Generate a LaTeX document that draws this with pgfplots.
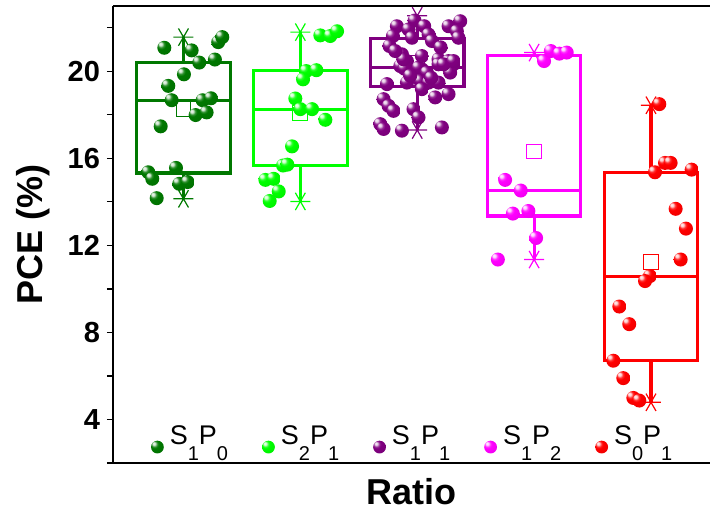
\documentclass[border=0pt]{standalone}
\usepackage{fontspec}
\setmainfont{Liberation Sans}
\usepackage{pgfplots}
\pgfplotsset{compat=1.18}

\definecolor{cA}{RGB}{0,120,0}
\definecolor{cB}{RGB}{0,255,0}
\definecolor{cC}{RGB}{128,0,128}
\definecolor{cD}{RGB}{255,0,255}
\definecolor{cE}{RGB}{255,0,0}
\colorlet{mballc}{black}

% glossy dots: own shading + own mark
\pgfdeclareradialshading[mballc]{mball}{\pgfqpoint{-15bp}{15bp}}{%
  color(0bp)=(mballc!8!white); color(5bp)=(mballc!15!white);
  color(11bp)=(mballc!80!white); color(16bp)=(mballc);
  color(40bp)=(mballc!92!black); color(60bp)=(mballc!78!black)}
\pgfdeclareplotmark{gball}{%
  \pgfpathcircle{\pgfpointorigin}{\pgfplotmarksize}%
  \pgfshadepath{mball}{0}\pgfusepath{}}

\newcommand{\lsub}[1]{\raisebox{-7.8pt}{\fontsize{10}{10}\selectfont #1}}

\pgfplotsset{
  pbox/.style={forget plot, line width=1.6pt, solid, mark=none,
    line join=miter, unbounded coords=jump},
  pend/.style={forget plot, only marks, mark=asterisk, line width=0.6pt,
    mark options={rotate=90, solid}, mark size=5pt},
  pmean/.style={forget plot, only marks, mark=square, mark size=3.7pt,
    line width=0.5pt},
  pdots/.style={only marks, mark=gball, mark size=3.5pt, #1,
    mark options={/utils/exec={\colorlet{mballc}{#1}}}},
}

\begin{document}
\begin{tikzpicture}
\begin{axis}[
  scale only axis,
  width=298.5pt, height=228.5pt,
  xmin=0.397, xmax=5.505,
  ymin=2, ymax=23,
  xtick=\empty,
  ytick={4,8,12,16,20},
  minor ytick={2,6,10,14,18,22},
  axis x line=box,
  axis y line*=left,
  x axis line style={-, line width=0.8pt},
  y axis line style={-, line width=0.8pt},
  tick align=outside,
  major tick length=3pt,
  minor tick length=3pt,
  tick style={line width=0.6pt, black},
  /pgf/number format/assume math mode=true,
  yticklabel style={font=\bfseries\fontsize{14.5}{14.5}\selectfont},
  ylabel={PCE (\%)},
  xlabel={Ratio},
  label style={font=\bfseries\fontsize{18}{18}\selectfont},
  y label style={at={(axis description cs:-0.134,0.5)}, anchor=center},
  x label style={at={(axis description cs:0.5,-0.062)}, anchor=center},
  legend columns=5,
  legend cell align=left,
  legend style={at={(0.063,0.02)}, anchor=south west, draw=none, fill=none,
    font=\fontsize{13.5}{13.5}\selectfont, inner sep=0pt,
    /tikz/every odd column/.append style={column sep=1pt},
    /tikz/every even column/.append style={column sep=15pt}},
  legend image code/.code={\draw[#1, mark size=3.2pt] plot[only marks] coordinates {(0cm,-5pt)};},
]

% ---- S1P0 ----
\addplot[pbox, cA] coordinates {
  (0.6,15.33) (1.4,15.33) (1.4,20.40) (0.6,20.40) (0.6,15.33) (1.4,15.33)
  (1,nan) (0.6,18.67) (1.4,18.67)
  (1,nan) (1,20.40) (1,21.57)
  (1,nan) (1,15.33) (1,14.14)};
\addplot[pend, cA] coordinates {(1,21.57) (1,14.14)};
\addplot[pmean, cA] coordinates {(1,18.26)};
\addplot[pdots=cA] coordinates {
  (0.836,21.08) (1.070,20.96) (1.297,21.34) (1.332,21.57) (1.135,20.40)
  (1.269,20.54) (1.004,19.86) (0.870,19.33) (0.899,18.67) (1.164,18.67)
  (1.235,18.76) (1.104,17.99) (1.198,18.11) (0.805,17.47) (0.699,15.36)
  (0.733,15.06) (0.936,15.56) (0.964,14.83) (1.036,14.91) (0.771,14.17)
};
\addlegendentry{S\lsub{1}P\lsub{0}}

% ---- S2P1 ----
\addplot[pbox, cB] coordinates {
  (1.6,15.67) (2.4,15.67) (2.4,20.05) (1.6,20.05) (1.6,15.67) (2.4,15.67)
  (2,nan) (1.6,18.26) (2.4,18.26)
  (2,nan) (2,20.05) (2,21.80)
  (2,nan) (2,15.67) (2,14.02)};
\addplot[pend, cB] coordinates {(2,21.80) (2,14.02)};
\addplot[pmean, cB] coordinates {(2,18.08)};
\addplot[pdots=cB] coordinates {
  (2.171,21.65) (2.256,21.62) (2.314,21.84) (2.051,20.01) (2.137,20.05)
  (2.023,19.63) (1.957,18.75) (2.000,18.26) (2.100,18.26) (2.214,17.77)
  (1.929,16.55) (1.852,15.67) (1.889,15.71) (1.701,15.01) (1.772,15.06)
  (1.815,14.48) (1.738,14.04)
};
\addlegendentry{S\lsub{2}P\lsub{1}}

% ---- S1P1 ----
\addplot[pbox, cC] coordinates {
  (2.6,19.30) (3.4,19.30) (3.4,21.50) (2.6,21.50) (2.6,19.30) (3.4,19.30)
  (3,nan) (2.6,20.17) (3.4,20.17)
  (3,nan) (3,21.50) (3,22.55)
  (3,nan) (3,19.30) (3,17.30)};
\addplot[pend, cC] coordinates {(3,22.55) (3,17.30)};
\addplot[pmean, cC] coordinates {(3,20.40)};
\addplot[pdots=cC] coordinates {
  (2.977,22.33) (2.826,22.07) (2.926,21.92) (3.060,22.07) (3.097,21.69)
  (3.268,22.07) (3.368,22.30) (2.792,21.62) (2.955,21.54) (3.126,21.39)
  (3.339,21.84) (3.353,21.54) (2.763,21.16) (2.869,20.78) (2.912,20.47)
  (3.182,20.55) (3.268,20.47) (2.855,20.24) (3.040,20.09) (3.182,20.32)
  (3.310,20.32) (2.891,20.12) (3.011,20.17) (3.083,19.94) (3.282,19.94)
  (2.912,19.48) (3.026,19.56) (3.097,19.48) (3.182,19.48) (2.741,19.41)
  (3.040,19.18) (3.154,18.80) (3.268,18.95) (2.712,18.72) (2.755,18.41)
  (2.797,18.18) (2.968,18.26) (3.011,17.88) (2.684,17.57) (2.712,17.35)
  (2.869,17.27) (3.211,17.42) (2.883,20.55) (3.225,20.32) (3.310,20.47)
  (2.812,20.93) (3.040,20.70) (2.940,19.80) (3.120,19.70) (3.200,21.10)
};
\addlegendentry{S\lsub{1}P\lsub{1}}

% ---- S1P2 ----
\addplot[pbox, cD] coordinates {
  (3.6,13.35) (4.4,13.35) (4.4,20.73) (3.6,20.73) (3.6,13.35) (4.4,13.35)
  (4,nan) (3.6,14.52) (4.4,14.52)
  (4,nan) (4,20.73) (4,20.86)
  (4,nan) (4,13.35) (4,11.35)};
\addplot[pend, cD] coordinates {(4,20.86) (4,11.35)};
\addplot[pmean, cD] coordinates {(4,16.31)};
\addplot[pdots=cD] coordinates {
  (4.085,20.47) (4.143,20.93) (4.216,20.81) (4.279,20.86) (3.752,15.01)
  (3.886,14.52) (3.818,13.46) (3.951,13.58) (4.017,12.34) (3.690,11.35)
};
\addlegendentry{S\lsub{1}P\lsub{2}}

% ---- S0P1 ----
\addplot[pbox, cE] coordinates {
  (4.6,6.70) (5.4,6.70) (5.4,15.36) (4.6,15.36) (4.6,6.70) (5.4,6.70)
  (5,nan) (4.6,10.56) (5.4,10.56)
  (5,nan) (5,15.36) (5,18.44)
  (5,nan) (5,6.70) (5,4.79)};
\addplot[pend, cE] coordinates {(5,18.44) (5,4.79)};
\addplot[pmean, cE] coordinates {(5,11.24)};
\addplot[pdots=cE] coordinates {
  (5.071,18.49) (5.120,15.79) (5.168,15.79) (5.034,15.36) (5.348,15.48)
  (5.211,13.68) (5.299,12.77) (5.254,11.35) (4.991,10.59) (4.949,10.36)
  (4.729,9.19) (4.814,8.38) (4.678,6.70) (4.763,5.90) (4.849,4.99)
  (4.900,4.87)
};
\addlegendentry{S\lsub{0}P\lsub{1}}
\end{axis}
\pgfresetboundingbox
\path[use as bounding box] ([xshift=-56.5pt,yshift=-23.5pt]current axis.south west)
  rectangle ([xshift=0.5pt,yshift=3pt]current axis.north east);
\end{tikzpicture}
\end{document}
